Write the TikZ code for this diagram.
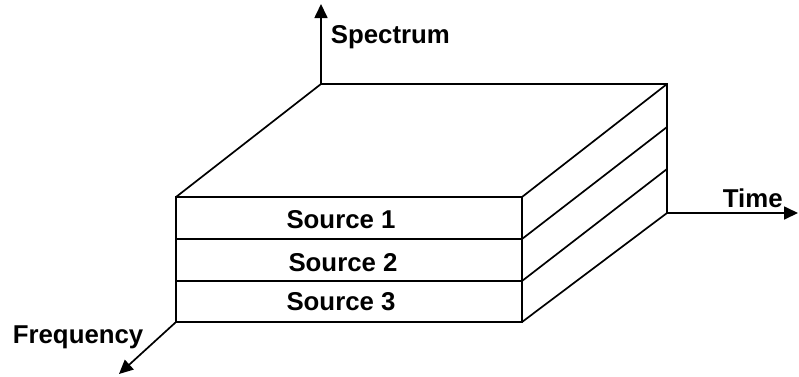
\documentclass[tikz,border=0pt]{standalone}
\usepackage{fontspec}
\setmainfont{Liberation Sans}
\usetikzlibrary{arrows.meta}
\tikzset{
  lbl/.style={font=\fontsize{25.8}{30}\selectfont\bfseries, inner sep=0pt},
  axis/.style={-{Triangle[length=14pt,width=13pt]}},
}
\begin{document}
\begin{tikzpicture}[x=1pt, y=-1pt, line width=1.7pt, line join=miter]
      \useasboundingbox (0,0) rectangle (799,376);
      \path
        (176,197) coordinate (f0)
        (176,239) coordinate (f1)
        (176,281) coordinate (f2)
        (176,322) coordinate (f3)
        (522,197) coordinate (g0)
        (522,239) coordinate (g1)
        (522,281) coordinate (g2)
        (522,322) coordinate (g3)
        (321,84) coordinate (b0)
        (667,84) coordinate (h0)
        (667,127) coordinate (h1)
        (667,169) coordinate (h2)
        (667,213) coordinate (h3)
        (321,4) coordinate (spec)
        (798,213) coordinate (time)
        (119,374) coordinate (freq);
      \node[lbl, anchor=base] (s1) at (341,228) {Source 1};
      \node[lbl, anchor=base] (s2) at (343,271) {Source 2};
      \node[lbl, anchor=base] (s3) at (341,310) {Source 3};
      \node[lbl, anchor=base west] (lspec) at (330,43) {Spectrum};
      \node[lbl, anchor=base west] (ltime) at (722,207) {Time};
      \node[lbl, anchor=base west] (lfreq) at (12,343) {Frequency};
      \begin{scope}[-]
        \draw (f0) rectangle (g3);
        \draw (f1) to (g1);
        \draw (f2) to (g2);
        \draw (f0) to (b0) to (h0) to (h3);
        \draw (g0) to (h0);
        \draw (g1) to (h1);
        \draw (g2) to (h2);
        \draw (g3) to (h3);
      \end{scope}
      \begin{scope}[axis]
        \draw (b0) to (spec);
        \draw (h3) to (time);
        \draw (f3) to (freq);
      \end{scope}
    \end{tikzpicture}
\end{document}
